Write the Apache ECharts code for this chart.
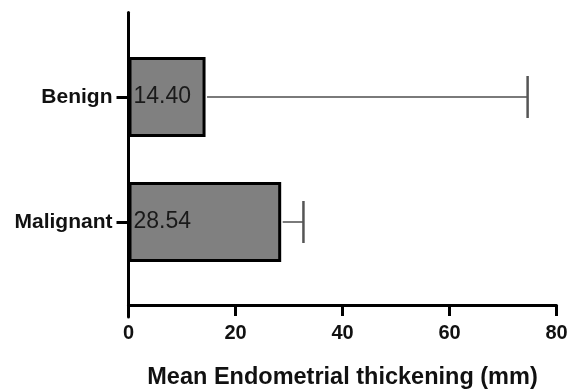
<!DOCTYPE html>
<html>
<head>
<meta charset="utf-8">
<script src="https://cdn.jsdelivr.net/npm/echarts@6/dist/echarts.min.js"></script>
<style>
  html, body { margin: 0; padding: 0; background: #fff; }
  #chart { width: 568px; height: 391px; }
</style>
</head>
<body>
<div id="chart"></div>
<script>
// data, bottom to top
const groups = ['Malignant', 'Benign'];
const means = [28.54, 14.40];
const errUpper = [32.7, 74.6];
const xTicks = [0, 20, 40, 60, 80];

const font = 'Liberation Sans, Arial, Helvetica, sans-serif';
const chart = echarts.init(document.getElementById('chart'));

const hiddenX = { type: 'value', min: xTicks[0], max: xTicks[xTicks.length - 1], show: false };
const gridBase = { left: 128.5, right: 11.5, outerBoundsMode: 'none', containLabel: false };

const option = {
  animation: false,
  grid: [
    // x axis frame
    Object.assign({ top: 12.5, bottom: 86 }, gridBase),
    // inner grid holding the bars
    Object.assign({ top: 34.5, bottom: 106.5 }, gridBase),
    // y axis line, runs a bit past the x axis
    Object.assign({ top: 12.5, bottom: 74 }, gridBase)
  ],
  xAxis: [
    {
      gridIndex: 0,
      type: 'value',
      min: xTicks[0],
      max: xTicks[xTicks.length - 1],
      interval: 20,
      name: 'Mean Endometrial thickening (mm)',
      nameLocation: 'middle',
      nameGap: 61,
      nameTextStyle: { fontFamily: font, fontWeight: 'bold', fontSize: 23.5, color: '#111' },
      axisLine: { show: true, onZero: false, lineStyle: { color: '#000', width: 3 } },
      axisTick: { show: true, length: 11, lineStyle: { color: '#000', width: 3 } },
      axisLabel: { margin: 18, fontFamily: font, fontWeight: 'bold', fontSize: 20, color: '#111' },
      splitLine: { show: false }
    },
    Object.assign({ gridIndex: 1 }, hiddenX),
    Object.assign({ gridIndex: 2 }, hiddenX)
  ],
  yAxis: [
    { gridIndex: 0, type: 'value', show: false },
    {
      gridIndex: 1,
      type: 'category',
      data: groups,
      axisLine: { show: false },
      axisTick: { show: true, length: 12, alignWithLabel: true, lineStyle: { color: '#000', width: 3 } },
      axisLabel: { margin: 16, fontFamily: font, fontWeight: 'bold', fontSize: 21, color: '#111' },
      splitLine: { show: false }
    },
    {
      gridIndex: 2,
      type: 'value',
      min: 0,
      max: 1,
      axisLine: { show: true, onZero: false, lineStyle: { color: '#000', width: 3 } },
      axisTick: { show: false },
      axisLabel: { show: false },
      splitLine: { show: false }
    }
  ],
  series: [
    {
      type: 'bar',
      xAxisIndex: 1,
      yAxisIndex: 1,
      data: means,
      barWidth: 80,
      itemStyle: { color: '#808080', borderColor: '#000', borderWidth: 3 },
      label: {
        show: true,
        position: 'insideLeft',
        distance: 5,
        formatter: p => p.value.toFixed(2),
        fontFamily: font,
        fontSize: 23,
        color: '#1a1a1a'
      },
      z: 3
    },
    {
      type: 'custom',
      xAxisIndex: 1,
      yAxisIndex: 1,
      data: groups.map((g, i) => [i, means[i], errUpper[i]]),
      renderItem: function (params, api) {
        const idx = api.value(0);
        const start = api.coord([api.value(1), idx]);
        const end = api.coord([api.value(2), idx]);
        const capH = 21;
        return {
          type: 'group',
          children: [
            {
              type: 'line',
              shape: { x1: start[0] + 1.5, y1: start[1], x2: end[0], y2: end[1] },
              style: { stroke: '#7a7a7a', lineWidth: 2 }
            },
            {
              type: 'line',
              shape: { x1: end[0], y1: end[1] - capH, x2: end[0], y2: end[1] + capH },
              style: { stroke: '#555', lineWidth: 2.5 }
            }
          ]
        };
      },
      z: 2
    }
  ]
};

chart.setOption(option);
</script>
</body>
</html>
